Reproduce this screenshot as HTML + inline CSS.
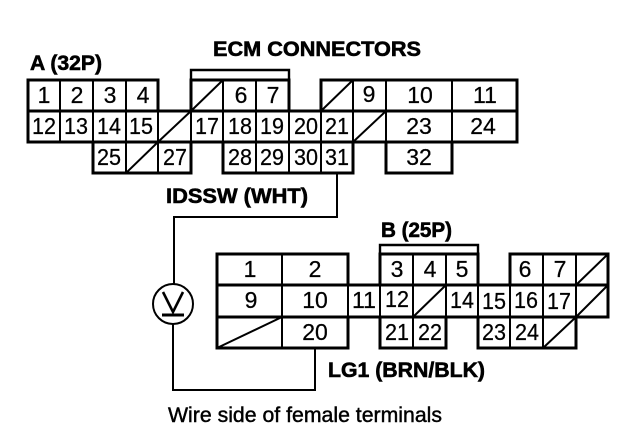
<!DOCTYPE html>
<html>
<head>
<meta charset="utf-8">
<style>
html,body{margin:0;padding:0;background:#fff;width:640px;height:438px;overflow:hidden}
svg{display:block}
.n{font:23px "Liberation Sans",sans-serif;text-anchor:middle;fill:#000;stroke:#000;stroke-width:.25}
.b{font:bold 21px "Liberation Sans",sans-serif;fill:#000;stroke:#000;stroke-width:.6}
.r{font:21.5px "Liberation Sans",sans-serif;fill:#000;stroke:#000;stroke-width:.45}
</style>
</head>
<body>
<svg width="640" height="438" viewBox="0 0 640 438" xmlns="http://www.w3.org/2000/svg">
<!-- Connector A: outlines -->
<g fill="none" stroke="#000" stroke-width="3">
<path d="M28 111V80H158V111"/>
<path d="M191 111V80H289V111"/>
<path d="M321 111V80H517V142H28V111H517"/>
<path d="M93 142V173H191V142"/>
<path d="M223 142V173H353V142"/>
<path d="M386 142V173H452V142"/>
<path d="M191 80V70H289V80" stroke-width="2.4"/>
</g>
<g fill="none" stroke="#000" stroke-width="2">
<path d="M60 80V142M93 80V142M126 80V173M158 80V173M191 80V173"/>
<path d="M223 80V173M256 80V173M289 80V173M321 80V173M353 80V173M386 80V173M452 80V173"/>
<path d="M191 111L223 80M158 142L191 111M126 173L158 142M321 111L353 80M353 142L386 111"/>
<path d="M28 142H517" stroke-width="2.6"/>
</g>
<!-- Connector A: numbers -->
<g class="n">
<text x="44" y="103">1</text><text x="77" y="103">2</text><text x="110" y="103">3</text><text x="143" y="103">4</text>
<text x="241" y="103">6</text><text x="273" y="103">7</text><text x="369" y="102">9</text><text x="420" y="103">10</text><text x="485" y="103">11</text>
<text x="44" y="134" textLength="24" lengthAdjust="spacingAndGlyphs">12</text><text x="76" y="134" textLength="24" lengthAdjust="spacingAndGlyphs">13</text><text x="109" y="134" textLength="24" lengthAdjust="spacingAndGlyphs">14</text><text x="141" y="134" textLength="24" lengthAdjust="spacingAndGlyphs">15</text>
<text x="207" y="134" textLength="24" lengthAdjust="spacingAndGlyphs">17</text><text x="240" y="134" textLength="24" lengthAdjust="spacingAndGlyphs">18</text><text x="272" y="134" textLength="24" lengthAdjust="spacingAndGlyphs">19</text><text x="306" y="134" textLength="24" lengthAdjust="spacingAndGlyphs">20</text><text x="337" y="134" textLength="24" lengthAdjust="spacingAndGlyphs">21</text>
<text x="419" y="134">23</text><text x="483" y="134">24</text>
<text x="109" y="165" textLength="24" lengthAdjust="spacingAndGlyphs">25</text><text x="175" y="165" textLength="24" lengthAdjust="spacingAndGlyphs">27</text>
<text x="240" y="165" textLength="24" lengthAdjust="spacingAndGlyphs">28</text><text x="272" y="165" textLength="24" lengthAdjust="spacingAndGlyphs">29</text><text x="306" y="165" textLength="24" lengthAdjust="spacingAndGlyphs">30</text><text x="337" y="165" textLength="24" lengthAdjust="spacingAndGlyphs">31</text>
<text x="419" y="165">32</text>
</g>
<!-- Connector B: outlines -->
<g fill="none" stroke="#000" stroke-width="3">
<path d="M217 285V254H348V285"/>
<path d="M380 285V254H478V285"/>
<path d="M510 285V254H608V317H217V285H608"/>
<path d="M217 317V348H348V317"/>
<path d="M380 317V348H446V317"/>
<path d="M478 317V348H576V317"/>
<path d="M380 254V245H478V254" stroke-width="2.4"/>
</g>
<g fill="none" stroke="#000" stroke-width="2">
<path d="M282 254V348M348 254V348M380 254V348M413 254V348M446 254V348M478 254V348"/>
<path d="M510 254V348M543 254V348M576 254V348"/>
<path d="M217 348L282 317M413 317L446 285M543 348L576 317M576 285L608 254M576 317L608 285"/>
</g>
<!-- Connector B: numbers -->
<g class="n">
<text x="250" y="277">1</text><text x="315" y="277">2</text>
<text x="397" y="277">3</text><text x="430" y="277">4</text><text x="462" y="277">5</text>
<text x="525" y="277">6</text><text x="560" y="277">7</text>
<text x="251" y="308">9</text><text x="315" y="308">10</text>
<text x="364" y="308" textLength="24" lengthAdjust="spacingAndGlyphs">11</text><text x="397" y="307" textLength="24" lengthAdjust="spacingAndGlyphs">12</text>
<text x="462" y="308" textLength="24" lengthAdjust="spacingAndGlyphs">14</text><text x="494" y="309" textLength="24" lengthAdjust="spacingAndGlyphs">15</text><text x="526" y="308" textLength="24" lengthAdjust="spacingAndGlyphs">16</text><text x="559" y="309" textLength="24" lengthAdjust="spacingAndGlyphs">17</text>
<text x="315" y="340">20</text>
<text x="397" y="340" textLength="24" lengthAdjust="spacingAndGlyphs">21</text><text x="430" y="340" textLength="24" lengthAdjust="spacingAndGlyphs">22</text>
<text x="494" y="340" textLength="24" lengthAdjust="spacingAndGlyphs">23</text><text x="527" y="340" textLength="24" lengthAdjust="spacingAndGlyphs">24</text>
</g>
<!-- Wiring -->
<g fill="none" stroke="#000" stroke-width="2">
<path d="M337 173V217H174V285"/>
<path d="M173 324V390H315V348"/>
<circle cx="173" cy="304" r="20"/>
</g>
<path d="M163 292L173 312L183 292" fill="none" stroke="#000" stroke-width="2.6"/>
<path d="M162 315H184" fill="none" stroke="#000" stroke-width="3"/>
<!-- Labels -->
<text class="b" x="213" y="56" textLength="208" lengthAdjust="spacingAndGlyphs">ECM CONNECTORS</text>
<text class="b" x="30" y="70" textLength="72" lengthAdjust="spacingAndGlyphs">A (32P)</text>
<text class="b" x="166" y="203" textLength="142" lengthAdjust="spacingAndGlyphs">IDSSW (WHT)</text>
<text class="b" x="381" y="237" textLength="71" lengthAdjust="spacingAndGlyphs">B (25P)</text>
<text class="b" x="328" y="377" textLength="157" lengthAdjust="spacingAndGlyphs">LG1 (BRN/BLK)</text>
<text class="r" x="168" y="422" textLength="274" lengthAdjust="spacingAndGlyphs">Wire side of female terminals</text>
</svg>
</body>
</html>
